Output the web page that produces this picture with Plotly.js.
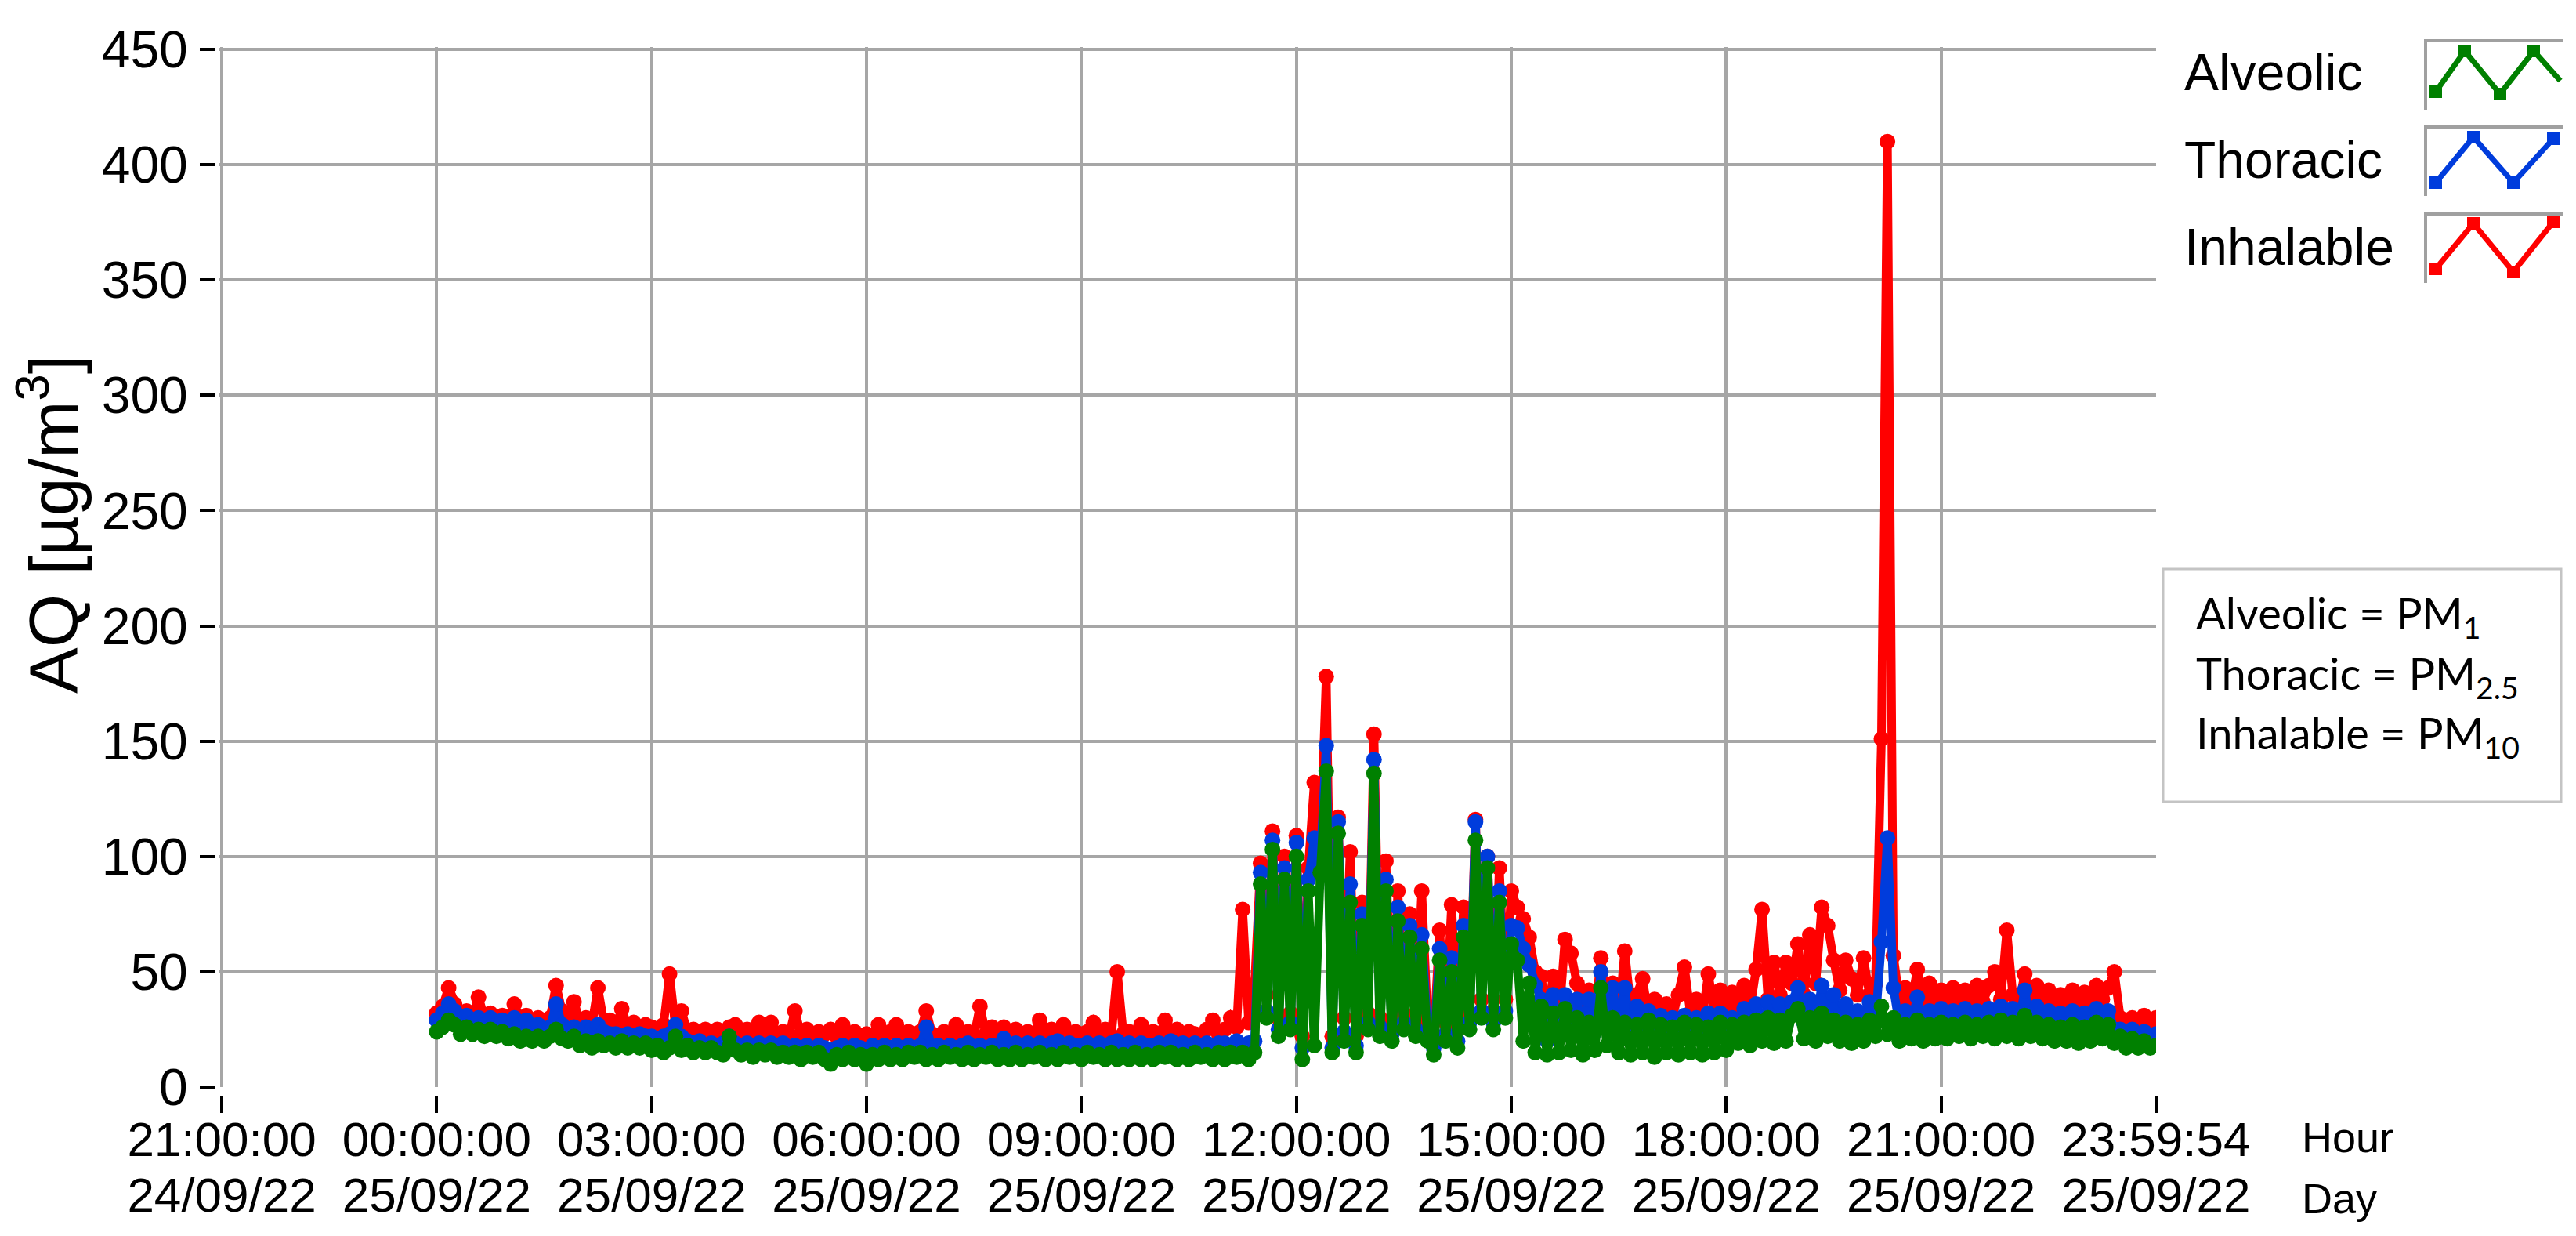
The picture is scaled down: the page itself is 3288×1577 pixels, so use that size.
<!DOCTYPE html>
<html>
<head>
<meta charset="utf-8">
<script src="https://cdn.plot.ly/plotly-3.0.1.min.js"></script>
<style>html,body{margin:0;padding:0;background:#fff;}</style>
</head>
<body>
<div id="chart" style="width:3288px;height:1577px;"></div>
<script>
// ---------------- DATA (5-minute samples, 00:00 ... 23:55, last at 23:59:54) ----------------
const seriesNames = ['Inhalable', 'Thoracic', 'Alveolic'];
const seriesColors = ['#FF0000', '#003CDC', '#008000'];

const inhalable = [
  32,35,43,36,31,33,30,39,30,32,29,31,   // 00h
  30,36,29,31,28,30,28,30,44,33,30,37,   // 01h
  28,30,27,43,28,29,26,34,26,28,25,27,   // 02h
  26,25,27,49,26,33,24,25,23,25,23,25,   // 03h
  24,26,27,23,25,23,28,22,28,23,24,22,   // 04h
  33,23,25,22,24,23,25,22,27,22,24,22,   // 05h
  23,22,27,22,24,27,22,24,22,24,33,23,   // 06h
  22,24,22,27,23,24,22,35,23,26,22,26,   // 07h
  23,25,22,24,22,29,23,25,22,27,23,24,   // 08h
  22,24,28,23,25,22,50,23,24,22,27,23,   // 09h
  24,22,29,23,25,22,24,23,22,25,29,23,   // 10h
  25,30,26,77,28,44,97,40,111,30,100,32, // 11h
  109,22,95,132,102,178,22,117,30,102,22,80, // 12h
  32,153,30,98,28,85,32,75,30,85,28,22,  // 13h
  68,28,79,25,78,32,116,38,100,33,95,38, // 14h
  85,78,73,65,50,48,30,48,30,64,58,45,   // 15h
  30,42,30,56,35,45,30,59,35,40,47,30,   // 16h
  38,28,36,30,40,52,32,38,30,49,33,42,   // 17h
  32,41,33,44,34,51,77,38,54,40,54,45,   // 18h
  62,40,66,45,78,70,55,42,55,47,40,56,   // 19h
  40,45,151,410,57,38,43,36,51,38,45,36, // 20h
  42,35,43,35,42,36,44,37,44,50,38,68,   // 21h
  40,36,49,38,44,36,42,35,40,34,42,35,   // 22h
  41,34,44,38,43,50,30,28,30,28,31,28,   // 23h
  30
];

const thoracic = [
  29,32,36,33,29,31,28,30,27,30,27,29,
  28,30,27,29,26,27,25,26,36,27,25,26,
  24,26,25,27,24,23,23,22,23,22,23,22,
  22,21,22,23,27,22,20,19,20,18,19,18,
  19,22,19,18,19,17,19,17,19,18,19,17,
  18,17,18,16,18,17,16,17,18,16,18,17,
  16,18,17,18,17,18,17,18,17,18,26,17,
  18,17,18,17,18,19,17,18,17,18,17,21,
  18,19,17,19,18,19,17,19,20,18,19,18,
  18,19,17,19,18,19,20,18,19,18,19,18,
  18,19,17,20,18,19,18,19,18,19,17,19,
  19,18,20,18,19,20,93,33,107,25,95,28,
  106,17,90,108,97,148,17,115,24,88,18,75,
  28,142,26,90,23,78,28,70,25,66,23,17,
  60,23,56,20,70,28,115,33,100,28,85,33,
  70,69,60,53,44,38,20,40,22,40,25,38,
  22,38,24,50,26,43,24,43,25,35,22,33,
  22,31,22,30,21,31,22,30,21,32,22,32,
  24,30,24,34,25,36,26,37,26,36,27,37,
  43,28,38,27,44,29,40,27,36,26,33,28,
  37,28,63,108,43,27,33,27,39,26,33,27,
  34,26,33,27,34,26,33,27,34,27,35,28,
  34,27,42,28,35,27,33,26,32,26,33,25,
  32,26,34,27,33,25,25,22,25,22,24,22,
  23
];

const alveolic = [
  24,26,29,27,23,26,23,25,22,25,22,24,
  21,23,20,22,20,22,20,22,25,21,20,22,
  18,20,17,20,18,19,17,20,17,19,17,19,
  16,18,15,17,22,16,18,15,17,15,17,15,
  14,22,16,14,16,13,16,14,16,13,15,13,
  15,12,15,13,15,12,10,14,12,15,12,14,
  10,14,12,15,12,14,12,15,13,15,12,14,
  12,15,13,14,12,15,12,14,13,15,12,14,
  12,15,12,14,13,15,12,14,12,15,13,14,
  12,15,13,14,12,15,12,14,12,15,12,14,
  12,15,13,15,12,14,12,15,13,14,12,15,
  12,15,13,15,12,15,88,30,103,22,90,25,
  100,12,85,18,93,137,15,110,20,80,15,70,
  25,136,22,85,20,72,25,65,22,60,20,14,
  55,20,50,17,65,25,107,30,95,25,80,30,
  62,55,20,45,15,35,14,32,15,34,16,30,
  14,28,16,43,18,30,15,28,14,27,15,29,
  13,27,15,26,14,28,15,27,14,26,15,28,
  16,27,19,28,18,29,20,30,19,29,20,31,
  34,21,30,20,32,22,29,20,28,19,27,20,
  29,22,35,23,30,20,27,21,29,20,27,21,
  28,21,27,22,28,21,27,22,28,21,29,22,
  28,21,31,22,28,21,27,20,26,20,27,19,
  26,20,28,21,27,19,22,17,21,17,20,17,
  18
];

const sampleDay = '2022-09-25';
const sampleStepSeconds = 300;
const lastSampleSecond = 86394;   // 23:59:54

const tickTimes = ['2022-09-24 21:00:00','2022-09-25 00:00:00','2022-09-25 03:00:00','2022-09-25 06:00:00',
  '2022-09-25 09:00:00','2022-09-25 12:00:00','2022-09-25 15:00:00','2022-09-25 18:00:00',
  '2022-09-25 21:00:00','2022-09-25 23:59:54'];
const tickHours = ['21:00:00','00:00:00','03:00:00','06:00:00','09:00:00','12:00:00','15:00:00','18:00:00','21:00:00','23:59:54'];
const tickDays = ['24/09/22','25/09/22','25/09/22','25/09/22','25/09/22','25/09/22','25/09/22','25/09/22','25/09/22','25/09/22'];
const yTicks = [0,50,100,150,200,250,300,350,400,450];

// ---------------- BUILD ----------------
function pad2(n){ return (n < 10 ? '0' : '') + n; }
function stamp(sec){
  const h = Math.floor(sec/3600), m = Math.floor((sec%3600)/60), s = sec%60;
  return sampleDay + ' ' + pad2(h) + ':' + pad2(m) + ':' + pad2(s);
}
const times = inhalable.map((_, i) => stamp(Math.min(i*sampleStepSeconds, lastSampleSecond)));

const values = [inhalable, thoracic, alveolic];
const traces = values.map((v, k) => ({
  type: 'scatter', mode: 'lines+markers', name: seriesNames[k],
  x: times, y: v, xaxis: 'x', yaxis: 'y',
  line: {color: seriesColors[k], width: 11},
  marker: {color: seriesColors[k], size: 20},
  hoverinfo: 'skip'
}));
// empty helper traces so that the label-only overlay axes get drawn
['x2','x3','x4'].forEach(ax => traces.push({type:'scatter', mode:'markers', x: [], y: [], xaxis: ax, yaxis:'y2',
  hoverinfo:'skip', showlegend:false}));

// geometry (pixels) -> paper
const W = 3288, Ht = 1577;
const M = {l: 275, r: 536, t: 60, b: 180};
const PW = W - M.l - M.r, PH = Ht - M.t - M.b;
const px = p => (p - M.l) / PW;
const py = p => (Ht - M.b - p) / PH;

const xRange = ['2022-09-24 20:58:00', '2022-09-26 00:00:00'];
const yRange = [0, 451];
const font = 'Liberation Sans, Arial, sans-serif';
const gridCol = '#A6A6A6';

const annotations = [
  {text: 'AQ [µg/m<sup>3</sup>]', xref:'paper', yref:'paper', x: px(62), y: py(669), xanchor:'center', yanchor:'middle',
   textangle: -90, showarrow:false, font:{family:font, size:88, color:'#000'}},
  {text: 'Hour', xref:'paper', yref:'paper', x: px(2936), y: py(1451), xanchor:'left', yanchor:'middle', showarrow:false,
   font:{family:font, size:54, color:'#000'}},
  {text: 'Day', xref:'paper', yref:'paper', x: px(2936), y: py(1529), xanchor:'left', yanchor:'middle', showarrow:false,
   font:{family:font, size:54, color:'#000'}}
];

const legendRows = [
  {label: 'Alveolic', color: seriesColors[2], textY: 92, top: 52,
   pts: [[3109,117],[3146,65],[3191,120],[3234,65],[3268,103]], nMarks: 4},
  {label: 'Thoracic', color: seriesColors[1], textY: 204, top: 162,
   pts: [[3109,233],[3157,175],[3208,233],[3259,177]], nMarks: 4},
  {label: 'Inhalable', color: seriesColors[0], textY: 315, top: 273,
   pts: [[3109,343],[3157,285],[3208,347],[3259,283]], nMarks: 4}
];

const shapes = [];
legendRows.forEach(r => {
  annotations.push({text: r.label, xref:'paper', yref:'paper', x: px(2786), y: py(r.textY), xanchor:'left', yanchor:'middle',
    showarrow:false, font:{family:font, size:66, color:'#000'}});
  shapes.push({type:'path', xref:'paper', yref:'paper',
    path: `M ${px(3272)},${py(r.top)} L ${px(3096)},${py(r.top)} L ${px(3096)},${py(r.top+88)}`,
    line:{color:'#A0A0A0', width:4}});
  shapes.push({type:'path', xref:'paper', yref:'paper',
    path: 'M ' + r.pts.map(p => px(p[0]) + ',' + py(p[1])).join(' L '),
    line:{color:r.color, width:7}});
  r.pts.slice(0, r.nMarks).forEach(p => {
    shapes.push({type:'rect', xref:'paper', yref:'paper', x0: px(p[0]-8), x1: px(p[0]+8), y0: py(p[1]-8), y1: py(p[1]+8),
      fillcolor: r.color, line:{width:0}});
  });
});

// info box
shapes.push({type:'rect', xref:'paper', yref:'paper', x0: px(2761), x1: px(3269), y0: py(726), y1: py(1023),
  line:{color:'#C4C4C4', width:3}, fillcolor:'rgba(0,0,0,0)'});
const infoLines = ['Alveolic = PM<sub>1</sub>', 'Thoracic = PM<sub>2.5</sub>', 'Inhalable = PM<sub>10</sub>'];
const infoY = [785, 862, 938];
infoLines.forEach((t, i) => annotations.push({text: t, xref:'paper', yref:'paper', x: px(2801), y: py(infoY[i]),
  xanchor:'left', yanchor:'middle', showarrow:false, font:{family:'Lato, Carlito, Calibri, sans-serif', size:56, color:'#000'}}));

const labelAxis = (text, standoff) => ({type:'date', overlaying:'x', anchor:'free', position:0, range: xRange,
  tickmode:'array', tickvals: tickTimes, ticktext: text, ticks:'', showgrid:false, zeroline:false, showline:false,
  tickfont:{family:font, size:62, color:'#000'}, ticklabelstandoff: standoff});

const layout = {
  width: W, height: Ht,
  margin: {l: M.l, r: M.r, t: M.t, b: M.b, pad: 0},
  paper_bgcolor: '#FFFFFF', plot_bgcolor: 'rgba(0,0,0,0)',
  showlegend: false, hovermode: false,
  font: {family: font, color: '#000'},
  xaxis: {type:'date', domain:[5/PW, 1], range: xRange, tickmode:'array', tickvals: tickTimes.slice(0, 9),
    showticklabels:false, ticks:'', showgrid:true, gridcolor:gridCol, gridwidth:4, zeroline:false, showline:false, fixedrange:true},
  yaxis: {domain:[10/PH, 1], range: yRange, tickmode:'array', tickvals: yTicks.slice(1), showticklabels:false, ticks:'',
    showgrid:true, gridcolor:gridCol, gridwidth:4, zeroline:false, showline:false, fixedrange:true},
  // tick marks only
  xaxis2: {type:'date', overlaying:'x', anchor:'free', position:0, range: xRange, tickmode:'array', tickvals: tickTimes,
    showticklabels:false, ticks:'outside', ticklen:22, tickwidth:4, tickcolor:'#000', showgrid:false, zeroline:false,
    showline:false},
  // hour labels and day labels
  xaxis3: labelAxis(tickHours, 15),
  xaxis4: labelAxis(tickDays, 86),
  yaxis2: {overlaying:'y', anchor:'free', position:0, side:'left', range: yRange, tickmode:'array', tickvals: yTicks,
    ticks:'outside', ticklen:20, tickwidth:4, tickcolor:'#000', showgrid:false, zeroline:false, showline:false,
    tickfont:{family:font, size:66, color:'#000'}, ticklabelstandoff: 2},
  annotations: annotations,
  shapes: shapes
};

Plotly.newPlot('chart', traces, layout, {staticPlot: true, displayModeBar: false});
</script>
</body>
</html>
